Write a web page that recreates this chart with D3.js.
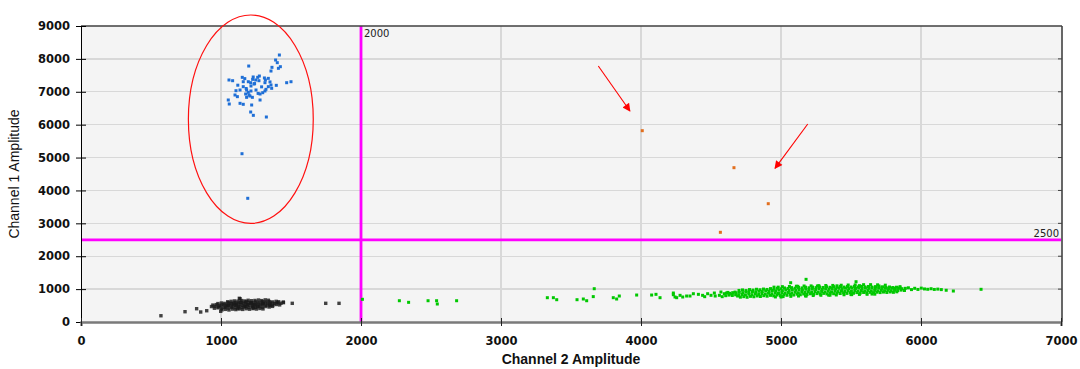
<!DOCTYPE html>
<html>
<head>
<meta charset="utf-8">
<script src="https://cdn.jsdelivr.net/npm/d3@7"></script>
<style>
  html, body { margin: 0; padding: 0; background: #ffffff; }
  svg { display: block; }
</style>
</head>
<body>
<svg id="chart" width="1080" height="369"></svg>
<script>
// Axis ticks
const xTicks = [0, 1000, 2000, 3000, 4000, 5000, 6000, 7000];
const yTicks = [0, 1000, 2000, 3000, 4000, 5000, 6000, 7000, 8000, 9000];

// Threshold gates
const channel2Threshold = 2000;
const channel1Threshold = 2500;

// Channel 1 positive droplets (Ch2 amplitude, Ch1 amplitude)
const ch1Positive = [
  [1417,8118],[1390,7966],[1402,7885],[1424,7763],[1410,7713],[1364,7743],[1357,7631],[1198,7783],
  [1057,7358],[1083,7337],[1152,7439],[1159,7306],[1195,7306],[1212,7276],[1226,7378],[1248,7358],
  [1262,7439],[1274,7479],[1271,7337],[1317,7358],[1338,7408],[1314,7276],[1469,7276],[1500,7306],
  [1357,7206],[1395,7196],[1338,7155],[1362,7105],[1159,7155],[1183,7054],[1214,7176],[1236,7236],
  [1214,7024],[1250,7054],[1107,7033],[1136,7054],[1100,6902],[1117,6852],[1176,6932],[1195,6983],
  [1207,6871],[1183,6831],[1224,6831],[1279,6932],[1298,6972],[1314,7024],[1321,7074],[1279,6750],
  [1052,6750],[1059,6628],[1136,6649],[1159,6619],[1219,6598],[1212,6385],[1231,6284],[1324,6233],
  [1180,7100],[1240,7250],[1290,7150],[1120,7200],[1265,6950],[1350,7300],[1200,6900],[1170,7400],
  [1230,7450],[1310,7420],[1150,5117],[1191,3761]
];

// Double positive droplets
const doublePositive = [[4009,5817],[4664,4692],[4909,3597],[4567,2727]];

// Double negative droplets: dense core, then outlying droplets
const doubleNegative = [
  [1048,615],[1072,628],[1096,640],[1121,633],[1147,652],[1170,638],[1194,660],[1219,646],[1243,655],
  [1268,668],[1291,650],[1316,672],[1338,661],
  [978,560],[1003,578],[1027,566],[1052,585],[1076,572],[1101,594],[1125,580],[1148,598],[1174,586],
  [1199,603],[1222,590],[1247,612],[1271,596],[1296,618],[1320,604],[1345,622],[1369,610],[1394,628],[1412,615],
  [942,515],[966,528],[990,510],[1015,534],[1039,520],[1064,542],[1087,526],[1112,548],[1136,533],
  [1161,556],[1185,540],[1210,561],[1233,547],[1258,566],[1282,551],[1306,572],[1331,558],[1355,578],
  [1380,563],[1404,582],[1428,570],[1446,588],
  [932,470],[956,480],[981,462],[1005,488],[1030,472],[1053,494],[1078,478],[1102,500],[1127,484],
  [1151,506],[1175,490],[1200,512],[1224,497],[1249,518],[1272,502],[1297,523],[1321,508],[1346,528],
  [1370,514],[1395,532],[1419,520],
  [953,420],[978,432],[1002,414],[1027,440],[1051,424],[1075,446],[1100,430],[1124,452],[1149,436],
  [1173,458],[1198,441],[1222,462],[1246,447],[1271,466],[1295,452],[1320,470],[1344,456],[1368,475],
  [1008,372],[1033,384],[1057,366],[1082,392],[1106,378],[1131,398],[1155,383],[1180,404],[1204,389],
  [1229,408],[1253,394],[1278,412],[1300,398],
  [1110,520],[1165,470],[1215,580],[1260,470],[1140,600],[1190,520],[1240,530],[1090,560],[1300,560],
  [1050,500],[1350,500],[1180,620],[1120,410],[1230,430],
  [571,190],[743,313],[826,404],[855,304],[898,343],[998,325],[1136,708],[1131,720],[1445,608],
  [1509,568],[1748,568],[1843,568]
];

// Channel 2 positive droplets
const ch2Positive = [
  [2010,690],[2274,647],[2340,598],[2479,647],[2540,647],[2545,547],[2683,647],[3331,739],[3374,739],
  [3398,678],[3543,678],[3588,699],[3612,647],[3666,1012],[3659,772],[3802,739],[3826,699],[3845,790],
  [3969,820],[4076,820],[4107,841],[4136,739],[4231,881],[4255,739],
  [4231,830],[4243,760],[4279,811],[4298,760],[4326,790],[4350,790],[4374,860],[4410,841],[4440,811],
  [4476,860],[4500,811],[4524,881],[4560,811],[4571,912],[4595,860],[4455,770],[4530,790],[4580,770],
  [4620,900],[4650,840],[4672,910],[4690,790],
  [4700,960],[4725,975],[4750,955],[4775,985],[4800,970],[4825,995],[4850,980],[4875,1002],[4900,990],
  [4925,1015],[4950,1000],[4975,1025],[5000,1010],[5025,1035],[5050,1020],[5075,1045],[5100,1028],
  [5125,1050],[5150,1036],[5175,1058],[5200,1040],[5225,1062],[5250,1045],[5275,1066],[5300,1050],
  [5325,1072],[5350,1055],[5375,1075],[5400,1058],[5425,1078],[5450,1062],[5475,1080],[5500,1064],
  [5525,1083],[5550,1066],[5575,1085],[5600,1068],[5625,1080],[5650,1062],[5675,1076],[5700,1058],
  [5725,1070],[5750,1052],[5775,1064],[5800,1048],[5825,1058],[5850,1042],
  [4610,880],[4633,872],[4655,892],[4680,884],[4702,900],[4727,892],[4750,915],[4771,903],[4796,925],
  [4820,912],[4843,934],[4866,925],[4891,948],[4915,936],[4938,958],[4962,946],[4985,966],[5010,951],
  [5034,972],[5058,962],[5081,981],[5106,970],[5129,988],[5153,975],[5177,995],[5200,982],[5224,1000],
  [5248,990],[5272,1008],[5295,995],[5319,1012],[5343,1001],[5366,1018],[5390,1006],[5414,1023],
  [5437,1012],[5461,1027],[5484,1015],[5508,1030],[5532,1020],[5556,1034],[5579,1022],[5603,1036],
  [5627,1025],[5650,1038],[5674,1024],[5698,1036],[5721,1022],[5745,1034],[5769,1020],[5792,1032],
  [5816,1018],[5840,1028],[5864,1012],[5888,1024],
  [4605,800],[4628,818],[4652,806],[4676,826],[4699,812],[4723,836],[4746,822],[4770,846],[4793,832],
  [4817,856],[4841,842],[4864,866],[4888,850],[4911,874],[4935,860],[4959,884],[4982,868],[5006,892],
  [5030,876],[5053,898],[5077,884],[5101,905],[5124,890],[5148,912],[5172,897],[5195,918],[5219,903],
  [5243,924],[5266,909],[5290,930],[5314,915],[5337,936],[5361,920],[5385,940],[5408,926],[5432,945],
  [5456,930],[5479,950],[5503,934],[5527,953],[5550,938],[5574,957],[5598,942],[5621,960],[5645,946],
  [5669,962],[5692,948],[5716,964],[5740,950],[5763,966],[5787,952],[5811,968],[5834,955],[5858,970],
  [5882,958],
  [4710,755],[4734,770],[4758,752],[4782,780],[4806,768],[4830,792],[4853,776],[4877,800],[4901,785],
  [4925,810],[4948,795],[4972,820],[4996,804],[5020,830],[5043,812],[5067,838],[5091,820],[5115,846],
  [5138,828],[5162,852],[5186,836],[5210,858],[5233,842],[5257,864],[5281,848],[5305,870],[5328,854],
  [5352,876],[5376,860],[5400,882],[5423,866],[5447,886],[5471,870],[5495,890],[5518,874],[5542,894],
  [5566,880],[5590,898],[5613,885],[5637,902],[5661,890],[5685,906],[5708,894],[5732,910],[5756,898],
  [5780,914],[5803,902],[5827,918],
  [4950,1060],[5010,1075],[5060,1080],[5110,1088],[5165,1095],[5215,1098],[5270,1105],[5320,1110],
  [5370,1112],[5430,1118],[5480,1125],[5530,1128],[5590,1135],[5640,1136],[5690,1130],[5745,1120],
  [4960,762],[5015,772],[5070,780],[5125,790],[5175,795],[5230,805],[5285,812],[5340,818],[5395,822],
  [5450,828],[5505,832],[5560,838],[5615,842],[5670,846],
  [4980,1060],[5120,1085],[5260,1095],[5400,1100],[5560,1105],[5700,1095],[5850,1075],
  [5000,760],[5180,790],[5350,815],[5500,835],[5650,850],
  [5910,1040],[5932,985],[5955,1025],[5978,990],[6002,1030],[6025,1005],[6048,995],[6072,1012],
  [6095,990],[6120,1000],[6145,985],[6180,965],[6231,942],[6429,994],
  [5069,1194],[5179,1297],[5536,1225]
];

// Annotations in data units
const circledCluster = [1213, 6166, 446, 3168];           // cx, cy, rx, ry
const arrowSegments = [[3695, 7783, 3921, 6415], [5191, 6020, 4957, 4673]];

const svg = d3.select("#chart");
const plotLeft = 81, plotRight = 1061, plotTop = 26, plotBottom = 322;

const x = d3.scaleLinear().domain([0, 7000]).range([plotLeft, plotRight]);
const y = d3.scaleLinear().domain([0, 9000]).range([plotBottom, plotTop]);

// plot background
svg.append("rect")
  .attr("x", plotLeft).attr("y", plotTop)
  .attr("width", plotRight - plotLeft).attr("height", plotBottom - plotTop)
  .attr("fill", "#f4f4f4");

// grid
const grid = svg.append("g").attr("shape-rendering", "crispEdges");
grid.selectAll("line.gx").data(xTicks.filter(d => d > 0 && d < 7000)).join("line")
  .attr("x1", d => x(d)).attr("x2", d => x(d))
  .attr("y1", plotTop).attr("y2", plotBottom)
  .attr("stroke", "#d8d8d8").attr("stroke-width", 1.4);
grid.selectAll("line.gy").data(yTicks.filter(d => d > 0 && d < 9000)).join("line")
  .attr("x1", plotLeft).attr("x2", plotRight)
  .attr("y1", d => y(d)).attr("y2", d => y(d))
  .attr("stroke", "#d8d8d8").attr("stroke-width", 1.4);

// threshold gates
svg.append("line")
  .attr("x1", x(channel2Threshold)).attr("x2", x(channel2Threshold))
  .attr("y1", plotTop).attr("y2", plotBottom)
  .attr("stroke", "#ff00ff").attr("stroke-width", 2.8);
svg.append("line")
  .attr("x1", plotLeft).attr("x2", plotRight)
  .attr("y1", y(channel1Threshold)).attr("y2", y(channel1Threshold))
  .attr("stroke", "#ff00ff").attr("stroke-width", 2.8);

// droplets as small squares
function drawDroplets(data, color, opacity, size) {
  svg.append("g")
    .selectAll("rect").data(data).join("rect")
    .attr("x", d => x(d[0]) - size / 2)
    .attr("y", d => y(d[1]) - size / 2)
    .attr("width", size).attr("height", size)
    .attr("fill", color)
    .attr("fill-opacity", opacity);
}
drawDroplets(doubleNegative, "#1a1a1a", 0.82, 3.4);
drawDroplets(ch2Positive, "#00c800", 1, 3);
drawDroplets(ch1Positive, "#1f6fd6", 1, 3);
drawDroplets(doublePositive, "#e26f1e", 1, 3);

// frame: top and right borders
svg.append("line").attr("x1", plotLeft).attr("x2", plotRight + 1).attr("y1", plotTop).attr("y2", plotTop)
  .attr("stroke", "#404040").attr("stroke-width", 1.5);
svg.append("line").attr("x1", plotRight + 1).attr("x2", plotRight + 1).attr("y1", plotTop).attr("y2", plotBottom)
  .attr("stroke", "#404040").attr("stroke-width", 1.6);
svg.append("g").selectAll("line").data(yTicks.filter(d => d > 0 && d < 9000)).join("line")
  .attr("x1", plotRight - 3).attr("x2", plotRight + 1)
  .attr("y1", d => y(d)).attr("y2", d => y(d))
  .attr("stroke", "#404040").attr("stroke-width", 1);

// y axis
const yAxis = svg.append("g")
  .attr("transform", `translate(${plotLeft},0)`)
  .call(d3.axisLeft(y).tickValues(yTicks).tickSize(5).tickPadding(6).tickFormat(d3.format("d")));
yAxis.select(".domain").attr("stroke", "#000").attr("stroke-width", 1);
yAxis.selectAll(".tick line").attr("x1", 5).attr("stroke", "#000");
yAxis.selectAll(".tick text")
  .attr("font-family", "'DejaVu Sans', sans-serif")
  .attr("font-weight", "bold").attr("font-size", 11.5).attr("fill", "#111");

// x axis
const xAxis = svg.append("g")
  .attr("transform", `translate(0,${plotBottom})`)
  .call(d3.axisBottom(x).tickValues(xTicks).tickSize(4).tickPadding(11).tickFormat(d3.format("d")));
xAxis.select(".domain").attr("stroke", "#7a7a7a").attr("stroke-width", 2.4);
xAxis.selectAll(".tick line").attr("y1", -4).attr("stroke", "#222");
xAxis.selectAll(".tick text")
  .attr("font-family", "'DejaVu Sans', sans-serif")
  .attr("font-weight", "bold").attr("font-size", 11.5).attr("fill", "#111");

// gate labels
svg.append("text")
  .attr("x", x(channel2Threshold) + 3).attr("y", plotTop + 11)
  .attr("font-family", "'DejaVu Sans', sans-serif").attr("font-size", 10)
  .attr("fill", "#222").text(String(channel2Threshold));
svg.append("text")
  .attr("x", plotRight - 2).attr("y", y(channel1Threshold) - 3)
  .attr("text-anchor", "end")
  .attr("font-family", "'DejaVu Sans', sans-serif").attr("font-size", 10)
  .attr("fill", "#222").text(String(channel1Threshold));

// axis titles
svg.append("text")
  .attr("transform", `translate(19,${(plotTop + plotBottom) / 2}) rotate(-90)`)
  .attr("text-anchor", "middle")
  .attr("font-family", "'Liberation Sans', Arial, sans-serif").attr("font-size", 14)
  .attr("fill", "#111").text("Channel 1 Amplitude");
svg.append("text")
  .attr("x", (plotLeft + plotRight) / 2).attr("y", 364)
  .attr("text-anchor", "middle")
  .attr("font-family", "'Liberation Sans', Arial, sans-serif").attr("font-weight", "bold")
  .attr("font-size", 14).attr("fill", "#111").text("Channel 2 Amplitude");

// annotations: circled cluster and arrows
svg.append("ellipse")
  .attr("cx", x(circledCluster[0])).attr("cy", y(circledCluster[1]))
  .attr("rx", x(circledCluster[2]) - x(0)).attr("ry", y(0) - y(circledCluster[3]))
  .attr("fill", "none").attr("stroke", "#ff1010").attr("stroke-width", 1.2);

const defs = svg.append("defs");
defs.append("marker")
  .attr("id", "arrowhead").attr("viewBox", "0 0 10 10")
  .attr("refX", 9).attr("refY", 5)
  .attr("markerWidth", 10).attr("markerHeight", 8)
  .attr("markerUnits", "userSpaceOnUse")
  .attr("orient", "auto")
  .append("path").attr("d", "M0,0 L10,5 L0,10 z").attr("fill", "#ff0000");

svg.append("g").selectAll("line").data(arrowSegments).join("line")
  .attr("x1", d => x(d[0])).attr("y1", d => y(d[1]))
  .attr("x2", d => x(d[2])).attr("y2", d => y(d[3]))
  .attr("stroke", "#ff0000").attr("stroke-width", 1.1)
  .attr("marker-end", "url(#arrowhead)");
</script>
</body>
</html>
